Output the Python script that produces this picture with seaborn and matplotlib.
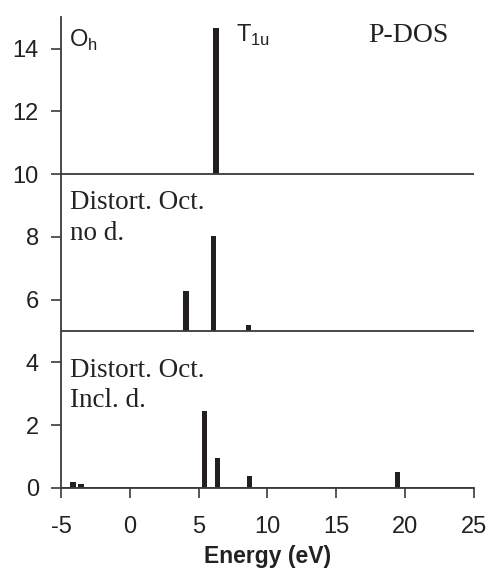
import matplotlib
matplotlib.use("Agg")
import matplotlib.pyplot as plt
import seaborn as sns

# P-DOS peaks, one list per panel (energy in eV, height above panel baseline)
oh_energy = [6.26]
oh_height = [4.65]

noD_energy = [4.08, 6.1, 8.65]
noD_height = [1.27, 3.03, 0.19]

inclD_energy = [-4.13, -3.55, 5.42, 6.37, 8.69, 19.44]
inclD_height = [0.2, 0.13, 2.45, 0.96, 0.38, 0.51]

panel_base = [10, 5, 0]
x_ticks = [-5, 0, 5, 10, 15, 20, 25]
y_ticks = [0, 2, 4, 6, 8, 10, 12, 14]

sns.set_style("ticks")
plt.rcParams["font.family"] = ["Liberation Sans", "DejaVu Sans"]
plt.rcParams["axes.unicode_minus"] = False

fig = plt.figure(figsize=(4.88, 5.72), dpi=100)
ax = fig.add_axes([0.125, 0.147, 0.846, 0.823])

panels = [(oh_energy, oh_height), (noD_energy, noD_height), (inclD_energy, inclD_height)]
for (en, h), base in zip(panels, panel_base):
    ax.bar(en, h, bottom=base, width=0.38, color="#231f20", linewidth=0)
    ax.axhline(base, color="#3a3a3a", lw=1.3, zorder=3)

ax.set_xlim(-5, 25)
ax.set_ylim(0, 15)
ax.set_xticks(x_ticks)
ax.set_yticks(y_ticks)
ax.tick_params(labelsize=17, length=7, width=1.2, color="#3a3a3a", labelcolor="#222222")
ax.tick_params(axis="y", pad=9)
ax.tick_params(axis="x", pad=13)
for s in ["left", "bottom"]:
    ax.spines[s].set_linewidth(1.3)
    ax.spines[s].set_color("#3a3a3a")
sns.despine(ax=ax)

ax.set_xlabel("Energy (eV)", fontsize=16.5, fontweight="bold", labelpad=5, color="#222222")

serif = ["Liberation Serif", "DejaVu Serif"]
ax.text(-4.42, 14.04, r"O$_\mathregular{h}$", fontsize=17, va="baseline", color="#222222")
ax.text(7.7, 14.2, r"T$_\mathregular{1u}$", fontsize=17, va="baseline", color="#222222")
ax.text(17.3, 14.2, "P-DOS", fontsize=20, family=serif, va="baseline", color="#222222")
ax.text(-4.35, 8.89, "Distort. Oct.", fontsize=19.5, family=serif, va="baseline", color="#222222")
ax.text(-4.35, 7.9, "no d.", fontsize=19.5, family=serif, va="baseline", color="#222222")
ax.text(-4.35, 3.54, "Distort. Oct.", fontsize=19.5, family=serif, va="baseline", color="#222222")
ax.text(-4.35, 2.58, "Incl. d.", fontsize=19.5, family=serif, va="baseline", color="#222222")

fig.savefig("out.png", dpi=100)
